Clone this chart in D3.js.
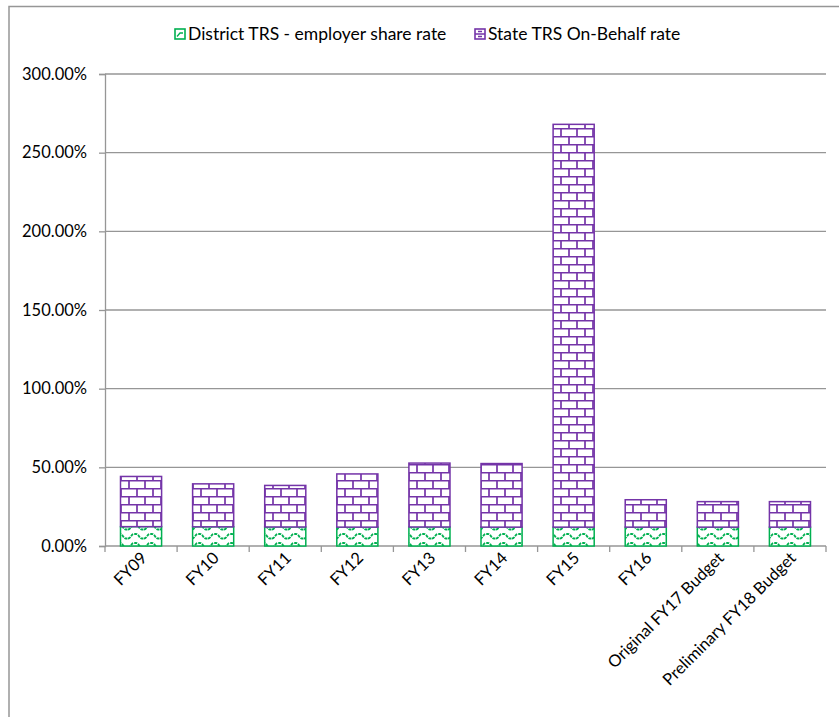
<!DOCTYPE html>
<html>
<head>
<meta charset="utf-8">
<script src="https://cdn.jsdelivr.net/npm/d3@7"></script>
<style>
  html, body { margin: 0; padding: 0; background: #fff; }
  svg text { font-family: Lato, "Open Sans", sans-serif; fill: #000; }
</style>
</head>
<body>
<svg id="chart" width="839" height="717"></svg>
<script>
// Fiscal-year categories
const categories = ["FY09", "FY10", "FY11", "FY12", "FY13", "FY14", "FY15", "FY16",
                    "Original FY17 Budget", "Preliminary FY18 Budget"];
// District TRS employer share rate (%)
const districtRate = [12.3, 12.2, 12.1, 12.0, 12.1, 12.0, 12.0, 12.0, 12.0, 12.0];
// State TRS on-behalf rate (%)
const stateRate = [31.9, 27.3, 26.4, 33.8, 40.6, 40.4, 256.0, 17.4, 16.2, 16.2];
// Y axis ticks (%)
const yTicks = [0, 50, 100, 150, 200, 250, 300];
const seriesNames = ["District TRS - employer share rate", "State TRS On-Behalf rate"];

const svg = d3.select("#chart");
const purple = "#7434a8";
const green = "#00b050";
const grid = "#969696";

const defs = svg.append("defs");
// Brick pattern for the state series
const brick = defs.append("pattern").attr("id", "brick")
  .attr("patternUnits", "userSpaceOnUse").attr("width", 16).attr("height", 16);
brick.append("rect").attr("width", 16).attr("height", 16).attr("fill", "#fff");
brick.append("path")
  .attr("d", "M0,0.75H16M0,8.75H16M1,0.75V8.75M9,8.75V16.75")
  .attr("stroke", purple).attr("stroke-width", 1.7).attr("fill", "none");
// Wave pattern for the district series
const wave = defs.append("pattern").attr("id", "wave")
  .attr("patternUnits", "userSpaceOnUse").attr("width", 16).attr("height", 9)
  .attr("y", 1);
wave.append("rect").attr("width", 16).attr("height", 9).attr("fill", "#fff");
wave.append("path")
  .attr("d", "M0,6.5 C3,6.5 3,2 6,2 L8,2 C11,2 11,6.5 14,6.5 L16,6.5")
  .attr("stroke", green).attr("stroke-width", 1.8).attr("fill", "none")
  .attr("stroke-dasharray", "3,1");

// Outer frame
svg.append("path").attr("d", "M9,717V6.5H839")
  .attr("stroke", grid).attr("stroke-width", 1.5).attr("fill", "none");

const margin = { left: 105, right: 826, top: 74, bottom: 546 };
const x = d3.scaleBand().domain(categories).range([margin.left, margin.right]).paddingInner(0.43).paddingOuter(0.215);
const y = d3.scaleLinear().domain([0, 300]).range([margin.bottom, margin.top]);

// Gridlines
svg.append("g").selectAll("line").data(yTicks.filter(d => d > 0)).join("line")
  .attr("x1", margin.left).attr("x2", margin.right)
  .attr("y1", d => y(d)).attr("y2", d => y(d))
  .attr("stroke", grid).attr("stroke-width", 1.3);

// Y axis
const yAxis = d3.axisLeft(y).tickValues(yTicks).tickSize(6).tickPadding(12)
  .tickFormat(d => d.toFixed(2) + "%");
const gy = svg.append("g").attr("transform", `translate(${margin.left},0)`).call(yAxis);
gy.selectAll("path, line").attr("stroke", grid).attr("stroke-width", 1.3);
gy.selectAll("text").style("font-size", "16.5px");

// X axis with ticks at category boundaries
const step = (margin.right - margin.left) / categories.length;
const bounds = d3.range(categories.length + 1).map(i => margin.left + i * step);
svg.append("line").attr("x1", margin.left).attr("x2", margin.right)
  .attr("y1", margin.bottom).attr("y2", margin.bottom)
  .attr("stroke", grid).attr("stroke-width", 1.3);
svg.append("g").selectAll("line").data(bounds).join("line")
  .attr("x1", d => d).attr("x2", d => d)
  .attr("y1", margin.bottom).attr("y2", margin.bottom + 6)
  .attr("stroke", grid).attr("stroke-width", 1.3);

// Category labels rotated 45 degrees
svg.append("g").selectAll("text").data(categories).join("text")
  .attr("text-anchor", "end")
  .attr("transform", d => `translate(${x(d) + x.bandwidth() / 2 + 7},${margin.bottom + 13}) rotate(-45)`)
  .style("font-size", "16.5px")
  .text(d => d);

// Stacked bars
const rows = categories.map((c, i) => ({ c, d: districtRate[i], s: stateRate[i] }));
const bars = svg.append("g");
bars.selectAll("rect.district").data(rows).join("rect").attr("class", "district")
  .attr("x", r => x(r.c)).attr("width", x.bandwidth())
  .attr("y", r => y(r.d)).attr("height", r => y(0) - y(r.d))
  .attr("fill", "url(#wave)").attr("stroke", green).attr("stroke-width", 1.5);
bars.selectAll("rect.state").data(rows).join("rect").attr("class", "state")
  .attr("x", r => x(r.c)).attr("width", x.bandwidth())
  .attr("y", r => y(r.d + r.s)).attr("height", r => y(r.d) - y(r.d + r.s))
  .attr("fill", "url(#brick)").attr("stroke", purple).attr("stroke-width", 1.5);

// Legend
const legend = svg.append("g");
const legendItems = [
  { name: seriesNames[0], x: 175, stroke: green },
  { name: seriesNames[1], x: 475, stroke: purple }
];
legendItems.forEach(it => {
  legend.append("rect").attr("x", it.x).attr("y", 29).attr("width", 10).attr("height", 10)
    .attr("fill", "#fff").attr("stroke", it.stroke).attr("stroke-width", 1.6);
  legend.append("path")
    .attr("d", it.stroke === green
      ? `M${it.x + 2},36.5L${it.x + 5},33L${it.x + 8},33`
      : `M${it.x},34H${it.x + 10}M${it.x + 3},31.5H${it.x + 7}M${it.x + 3},36.5H${it.x + 7}`)
    .attr("stroke", it.stroke).attr("stroke-width", 1.3).attr("fill", "none");
  legend.append("text").attr("x", it.x + 13).attr("y", 40).style("font-size", "17.5px").text(it.name);
});
</script>
</body>
</html>
